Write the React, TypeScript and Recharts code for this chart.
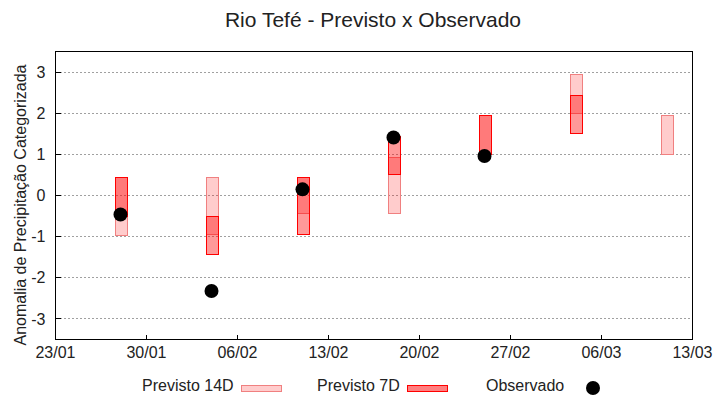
import { ComposedChart, Bar, Scatter, XAxis, YAxis, CartesianGrid, ReferenceArea } from "recharts";

// days counted from 23/01
const days = [5, 12, 19, 26, 33, 40, 47];
const prev14Low = [-0.97, -0.95, -0.44, -0.44, 1.0, 2.0, 1.0];
const prev14High = [0.44, 0.44, 0.44, 0.93, 1.94, 2.94, 1.94];
const prev7Low = [-0.5, -1.44, -0.95, 0.51, 1.0, 1.5, null];
const prev7High = [0.44, -0.5, 0.44, 1.44, 1.94, 2.43, null];
const observed = [-0.46, -2.32, 0.15, 1.41, 0.96, null, null];

const xTicks = [0, 7, 14, 21, 28, 35, 42, 49];
const xTickLabels = ["23/01", "30/01", "06/02", "13/02", "20/02", "27/02", "06/03", "13/03"];
const yTicks = [-3, -2, -1, 0, 1, 2, 3];

const FONT = "'Liberation Sans', Arial, sans-serif";

const data = days.map((d, i) => ({
    day: d,
    r14: [prev14Low[i], prev14High[i]],
    r7: prev7Low[i] === null ? null : [prev7Low[i], prev7High[i]],
}));

const obsPoints = days
    .map((d, i) => ({ day: d, obs: observed[i] }))
    .filter((p) => p.obs !== null);

const Dot = (props: any) => <circle cx={props.cx} cy={props.cy} r={7} fill="#000" />;

// gnuplot-style inward ticks
const LeftTick = ({ x, y, payload }: any) => (
    <g>
        <line x1={x + 10} x2={x + 15} y1={y} y2={y} stroke="#000" shapeRendering="crispEdges" />
        <text x={x} y={y} dy="0.355em" textAnchor="end" fontSize={16} fill="#222" fontFamily={FONT}>
            {payload.value}
        </text>
    </g>
);

const RightTick = ({ x, y }: any) => (
    <line x1={x - 5} x2={x} y1={y} y2={y} stroke="#000" shapeRendering="crispEdges" />
);

const BottomTick = ({ x, y, payload }: any) => (
    <g>
        <line x1={x} x2={x} y1={y - 7} y2={y - 12} stroke="#000" shapeRendering="crispEdges" />
        <text x={x} y={y} dy="0.71em" textAnchor="middle" fontSize={16} fill="#222" fontFamily={FONT}>
            {xTickLabels[xTicks.indexOf(payload.value)]}
        </text>
    </g>
);

const TopTick = ({ x, y }: any) => (
    <line x1={x} x2={x} y1={y} y2={y + 5} stroke="#000" shapeRendering="crispEdges" />
);

const css = `
.recharts-cartesian-grid line, .recharts-rectangle, .recharts-reference-area-rect { shape-rendering: crispEdges; }
`;

export default function App() {
    return (
        <div style={{ position: "absolute", left: 0, top: 0, width: 720, height: 400, fontFamily: FONT }}>
            <style>{css}</style>
            <ComposedChart width={720} height={400} data={data} margin={{ top: 51.5, right: 27.5, bottom: 0, left: 0.5 }}>
                <CartesianGrid xAxisId="b" yAxisId="l" horizontal vertical={false} stroke="#a0a0a0" strokeDasharray="2 2" />
                <XAxis
                    xAxisId="b"
                    dataKey="day"
                    type="number"
                    domain={[0, 49]}
                    ticks={xTicks}
                    height={60.5}
                    axisLine={false}
                    tickLine={false}
                    tickSize={0}
                    tickMargin={7}
                    tick={BottomTick}
                    allowDataOverflow
                />
                <XAxis
                    xAxisId="t"
                    dataKey="day"
                    type="number"
                    orientation="top"
                    domain={[0, 49]}
                    ticks={xTicks}
                    height={0}
                    axisLine={false}
                    tickLine={false}
                    tickSize={0}
                    tickMargin={0}
                    tick={TopTick}
                    allowDataOverflow
                />
                <YAxis
                    yAxisId="l"
                    type="number"
                    domain={[-3.5, 3.5]}
                    ticks={yTicks}
                    width={55}
                    axisLine={false}
                    tickLine={false}
                    tickSize={0}
                    tickMargin={10}
                    tick={LeftTick}
                    allowDataOverflow
                />
                <YAxis
                    yAxisId="r"
                    orientation="right"
                    type="number"
                    domain={[-3.5, 3.5]}
                    ticks={yTicks}
                    width={0}
                    axisLine={false}
                    tickLine={false}
                    tickSize={0}
                    tickMargin={0}
                    tick={RightTick}
                    allowDataOverflow
                />
                <ReferenceArea
                    xAxisId="b"
                    yAxisId="l"
                    x1={0}
                    x2={49}
                    y1={-3.5}
                    y2={3.5}
                    fill="none"
                    fillOpacity={0}
                    stroke="#000"
                    strokeWidth={1}
                    strokeOpacity={1}
                    ifOverflow="visible"
                />
                <Bar
                    xAxisId="b"
                    yAxisId="l"
                    dataKey="r14"
                    barSize={12}
                    fill="#ff0000"
                    fillOpacity={0.2}
                    stroke="#f08080"
                    strokeWidth={1}
                    isAnimationActive={false}
                />
                <Bar
                    xAxisId="t"
                    yAxisId="l"
                    dataKey="r7"
                    barSize={12}
                    fill="#ff0000"
                    fillOpacity={0.4}
                    stroke="#ff0000"
                    strokeWidth={1}
                    isAnimationActive={false}
                />
                <Scatter
                    xAxisId="b"
                    yAxisId="l"
                    data={obsPoints}
                    dataKey="obs"
                    shape={Dot}
                    isAnimationActive={false}
                />
            </ComposedChart>
            <svg width={720} height={400} style={{ position: "absolute", left: 0, top: 0, pointerEvents: "none" }}>
                <text x={373} y={27} textAnchor="middle" fontSize={21} fill="#222" fontFamily={FONT}>
                    Rio Tefé - Previsto x Observado
                </text>
                <text
                    transform="translate(26,205) rotate(-90)"
                    textAnchor="middle"
                    fontSize={16}
                    fill="#222"
                    fontFamily={FONT}
                >
                    Anomalia de Precipitação Categorizada
                </text>
                <text x={142} y={391} fontSize={16} fill="#222" fontFamily={FONT}>Previsto 14D</text>
                <rect x={241.5} y={385.5} width={40} height={6} fill="#ff0000" fillOpacity={0.2} stroke="#f08080" />
                <text x={317} y={391} fontSize={16} fill="#222" fontFamily={FONT}>Previsto 7D</text>
                <rect x={407.5} y={385.5} width={40} height={6} fill="#ff0000" fillOpacity={0.5} stroke="#ff0000" />
                <text x={486} y={391} fontSize={16} fill="#222" fontFamily={FONT}>Observado</text>
                <circle cx={593} cy={388} r={7} fill="#000" />
            </svg>
        </div>
    );
}
